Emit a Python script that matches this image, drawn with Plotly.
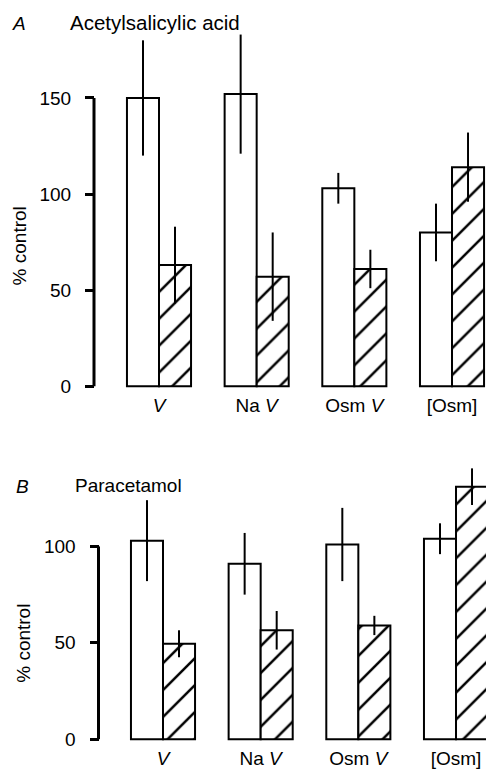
import plotly.graph_objects as go

# ---------------- data ----------------
groups = ["<i>V</i>", "Na <i>V</i>", "Osm <i>V</i>", "[Osm]"]
group_pos = [0, 1, 2, 3]

# Panel A: Acetylsalicylic acid
a_open = [150, 152, 103, 80]
a_open_err = [30, 31, 8, 15]
a_hatch = [63, 57, 61, 114]
a_hatch_err = [20, 23, 10, 18]

# Panel B: Paracetamol
b_open = [103, 91, 101, 104]
b_open_err = [21, 16, 19, 8]
b_hatch = [49.5, 56.5, 59, 131]
b_hatch_err = [7, 10, 5, 9.5]

a_ticks = [0, 50, 100, 150]
b_ticks = [0, 50, 100]

# ---------------- layout helpers ----------------
W, H = 486, 770
FONT = "Liberation Sans, Arial, sans-serif"
FS = 19


def pxx(p):
    return p / W


def pxy(p):
    return 1 - p / H


# panel geometry (pixels)
zeroA, ppuA = 388.7, 96.7 / 50
rangeA = [-3, 190]
zeroB, ppuB = 744.0, 97.0 / 50
rangeB = [-3, 150]
domA = [pxy(zeroA - rangeA[0] * ppuA), pxy(zeroA - rangeA[1] * ppuA)]
domB = [pxy(zeroB - rangeB[0] * ppuB), pxy(zeroB - rangeB[1] * ppuB)]

spacing = 97.67
cA, cB = 159.0, 163.0
xrangeA = [-cA / spacing, (W - cA) / spacing]
xrangeB = [-cB / spacing, (W - cB) / spacing]

axA, axB = 94.0, 98.5

line = dict(color="black", width=2)
hatch = dict(shape="/", fgcolor="#000000", fgopacity=1, bgcolor="white", size=19, solidity=0.13, fillmode="replace")
err = lambda arr: dict(type="data", array=arr, visible=True, color="black", thickness=2, width=0)

fig = go.Figure()
fig.add_trace(go.Bar(x=group_pos, y=a_open, error_y=err(a_open_err),
                     marker=dict(color="white", line=line), xaxis="x", yaxis="y", showlegend=False))
fig.add_trace(go.Bar(x=group_pos, y=a_hatch, error_y=err(a_hatch_err),
                     marker=dict(color="white", line=line, pattern=hatch),
                     xaxis="x", yaxis="y", showlegend=False))
fig.add_trace(go.Bar(x=group_pos, y=b_open, error_y=err(b_open_err),
                     marker=dict(color="white", line=line), xaxis="x2", yaxis="y2", showlegend=False))
fig.add_trace(go.Bar(x=group_pos, y=b_hatch, error_y=err(b_hatch_err),
                     marker=dict(color="white", line=line, pattern=hatch),
                     xaxis="x2", yaxis="y2", showlegend=False))

xcommon = dict(domain=[0, 1], tickmode="array", tickvals=group_pos, ticktext=groups,
               showgrid=False, zeroline=False, showline=False, ticks="",
               tickfont=dict(family=FONT, size=FS, color="black"), fixedrange=True)
ycommon = dict(showgrid=False, zeroline=False, showline=False, ticks="outside", ticklen=9,
               tickwidth=2.5, tickcolor="black", anchor="free", ticklabelstandoff=10,
               tickfont=dict(family=FONT, size=FS, color="black"), fixedrange=True)

fig.update_layout(
    width=W, height=H,
    margin=dict(l=0, r=0, t=0, b=0),
    paper_bgcolor="white", plot_bgcolor="rgba(0,0,0,0)",
    barmode="group", bargap=0.344, bargroupgap=0,
    xaxis=dict(range=xrangeA, anchor="y", **xcommon),
    yaxis=dict(domain=domA, range=rangeA, tickvals=a_ticks, position=pxx(axA), **ycommon),
    xaxis2=dict(range=xrangeB, anchor="y2", **xcommon),
    yaxis2=dict(domain=domB, range=rangeB, tickvals=b_ticks, position=pxx(axB), **ycommon),
    font=dict(family=FONT, size=FS, color="black"),
)

# y axis lines spanning only the labelled range
fig.add_shape(type="line", xref="paper", yref="y", x0=pxx(axA), x1=pxx(axA), y0=0, y1=150,
              line=dict(color="black", width=3))
fig.add_shape(type="line", xref="paper", yref="y2", x0=pxx(axB), x1=pxx(axB), y0=0, y1=100,
              line=dict(color="black", width=3))

ann = [
    dict(text="<i>A</i>", x=pxx(19), y=pxy(24), font=dict(family=FONT, size=FS, color="black")),
    dict(text="Acetylsalicylic acid", x=pxx(155), y=pxy(23), font=dict(family=FONT, size=20.5, color="black")),
    dict(text="% control", x=pxx(19), y=pxy(248), textangle=-90, font=dict(family=FONT, size=FS, color="black")),
    dict(text="<i>B</i>", x=pxx(22), y=pxy(490), font=dict(family=FONT, size=FS, color="black")),
    dict(text="Paracetamol", x=pxx(128), y=pxy(489), font=dict(family=FONT, size=FS, color="black")),
    dict(text="% control", x=pxx(24), y=pxy(648), textangle=-90, font=dict(family=FONT, size=FS, color="black")),
]
for a in ann:
    fig.add_annotation(xref="paper", yref="paper", showarrow=False, xanchor="center", yanchor="middle", **a)

fig.write_html("out.html", config={"displayModeBar": False},
               post_script="document.body.style.margin='0px';document.body.style.overflow='hidden';")
